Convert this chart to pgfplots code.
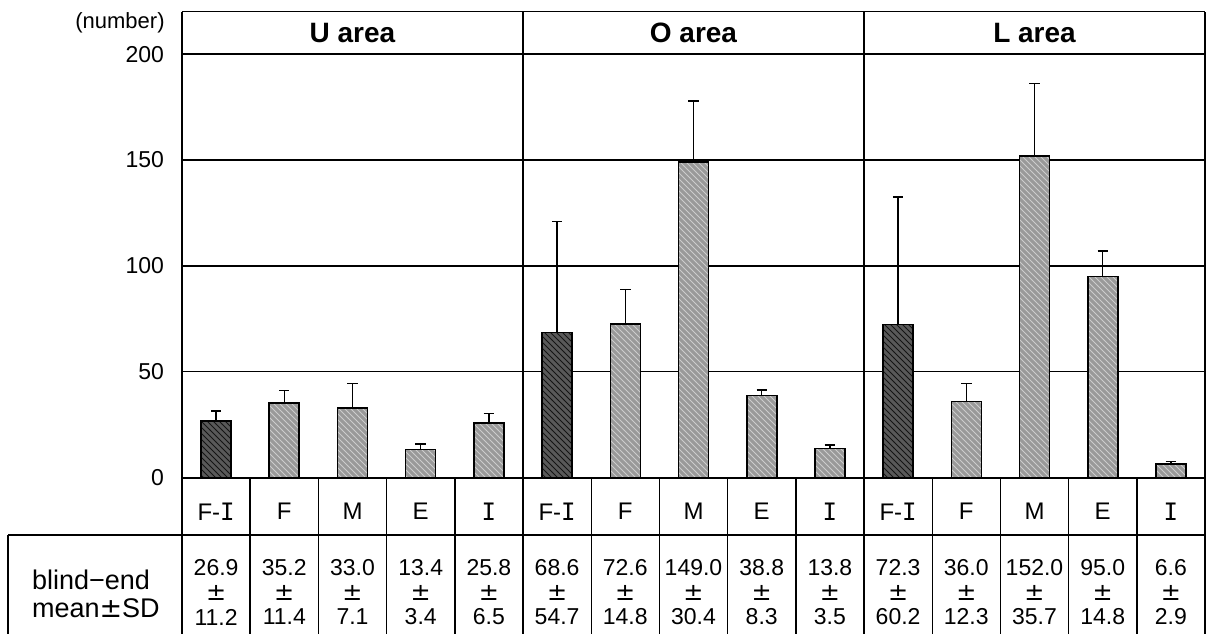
\documentclass[border=0pt]{standalone}
\usepackage{fontspec}
\setmainfont{Liberation Sans}
\newfontfamily\monofont{DejaVu Sans Mono}
\newfontfamily\pmfont{DejaVu Sans}
\usepackage{pgfplots}
\usepackage{pgfplotstable}
\pgfplotsset{compat=1.18}
\usetikzlibrary{patterns}

\pgfplotstableread{
x y e
0.5 26.9 4.6
5.5 68.6 52.3
10.5 72.3 60.2
}\fidata
\pgfplotstableread{
x y e
1.5 35.2 6.1
2.5 33.0 11.4
3.5 13.4 2.5
4.5 25.8 4.6
6.5 72.6 16.3
7.5 149.0 28.9
8.5 38.8 2.6
9.5 13.8 1.6
11.5 36.0 8.6
12.5 152.0 34.0
13.5 95.0 12.0
14.5 6.6 1.0
}\otherdata

\newcommand{\Iglyph}{{\monofont I}}

\begin{document}
\begin{tikzpicture}
\useasboundingbox (-91pt,-78.15pt) rectangle (512pt,238.85pt);
\begin{axis}[
  anchor=origin, at={(0,0)},
  x=34.1pt, y=1.059pt,
  xmin=0, xmax=15, ymin=0, ymax=200,
  clip=false,
  axis line style={line width=0.8pt},
  xtick=\empty,
  ytick={0,50,100,150,200},
  ymajorgrids,
  grid style={line width=0.6pt, black},
  major tick length=0pt,
  yticklabel style={font=\fontsize{11.5}{13}\selectfont, xshift=-5.5pt},
  /pgf/number format/assume math mode=true,
  error bars/error bar style={line width=0.7pt, black},
  error bars/error mark options={line width=0.7pt, black, mark size=2.6pt, rotate=90},
]
\addplot[ybar, bar width=15pt, bar shift=0pt, draw=black, line width=0.8pt,
  fill=black!65, postaction={pattern=north west lines, pattern color=black!92},
  error bars/.cd, y dir=plus, y explicit]
  table[x=x, y=y, y error=e] {\fidata};
\addplot[ybar, bar width=15pt, bar shift=0pt, draw=black, line width=0.8pt,
  fill=black!40, postaction={pattern=north west lines, pattern color=white!80!black},
  error bars/.cd, y dir=plus, y explicit]
  table[x=x, y=y, y error=e] {\otherdata};
\end{axis}

\begin{scope}[x=34.1pt, y=1.059pt]
% header
\draw[line width=0.8pt] (0,220.1) -- (15,220.1);
\draw[line width=0.8pt] (0,200) -- (0,220.1);
\draw[line width=0.8pt] (15,200) -- (15,220.1);
\draw[line width=0.6pt] (5,0) -- (5,220.1);
\draw[line width=0.6pt] (10,0) -- (10,220.1);
\node[font=\fontsize{14}{16}\selectfont\bfseries] at (2.5,210) {U area};
\node[font=\fontsize{14}{16}\selectfont\bfseries] at (7.5,210) {O area};
\node[font=\fontsize{14}{16}\selectfont\bfseries] at (12.5,210) {L area};
\node[font=\fontsize{11}{12}\selectfont] at (-0.909,214.7) {(number)};

% category row and table grid
\draw[line width=0.8pt] (0,0) -- (0,-73.8);
\draw[line width=0.8pt] (15,0) -- (15,-73.8);
\foreach \k in {1,...,14} {
  \draw[line width=0.7pt] (\k,0) -- (\k,-73.8);
}
\draw[line width=0.8pt] (-2.551,-27.05) -- (15,-27.05);
\draw[line width=0.8pt] (-2.551,-27.05) -- (-2.551,-73.8);

% category labels
\foreach \a in {0,5,10} {
  \node[font=\fontsize{12}{13}\selectfont] at (\a+0.5,-16.05) {F-\Iglyph};
  \node[font=\fontsize{12}{13}\selectfont] at (\a+1.5,-16.05) {F};
  \node[font=\fontsize{12}{13}\selectfont] at (\a+2.5,-16.05) {M};
  \node[font=\fontsize{12}{13}\selectfont] at (\a+3.5,-16.05) {E};
  \node[font=\fontsize{12}{13}\selectfont] at (\a+4.5,-16.05) {\Iglyph};
}

% table values
\foreach \xx/\m/\s in {0.5/26.9/11.2, 1.5/35.2/11.4, 2.5/33.0/7.1, 3.5/13.4/3.4, 4.5/25.8/6.5,
  5.5/68.6/54.7, 6.5/72.6/14.8, 7.5/149.0/30.4, 8.5/38.8/8.3, 9.5/13.8/3.5,
  10.5/72.3/60.2, 11.5/36.0/12.3, 12.5/152.0/35.7, 13.5/95.0/14.8, 14.5/6.6/2.9} {
  \node[font=\fontsize{11.5}{12}\selectfont] at (\xx,-42.2) {\m};
  \node[font=\fontsize{12}{12}\selectfont\pmfont] at (\xx,-54.2) {±};
  \node[font=\fontsize{11.5}{12}\selectfont] at (\xx,-65.8) {\s};
}
\node[font=\fontsize{13.5}{14}\selectfont, anchor=west] at (-2.302,-48.3) {blind−end};
\node[font=\fontsize{13.5}{14}\selectfont, anchor=west] at (-2.302,-61.5) {mean{\pmfont±}SD};
\end{scope}
\end{tikzpicture}
\end{document}
